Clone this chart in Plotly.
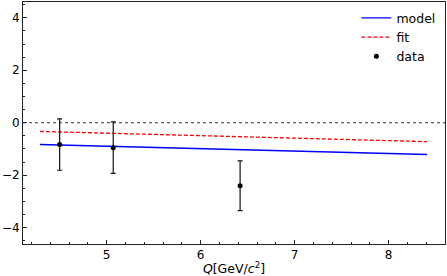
import plotly.graph_objects as go

# Data
data_q = [4.50, 5.07, 6.42]
data_val = [-0.83, -0.95, -2.40]
data_err = [0.98, 0.98, 0.95]

model_q = [4.29, 6.0, 8.41]
model_val = [-0.83, -0.99, -1.21]

fit_q = [4.29, 6.0, 8.41]
fit_val = [-0.33, -0.49, -0.72]

x_ticks = [5, 6, 7, 8]
y_ticks = [-4, -2, 0, 2, 4]

FONT = "DejaVu Sans"

fig = go.Figure()
fig.add_trace(go.Scatter(x=model_q, y=model_val, mode="lines", name="model",
                         line=dict(color="#0000ff", width=1.3)))
fig.add_trace(go.Scatter(x=fit_q, y=fit_val, mode="lines", name="fit",
                         line=dict(color="#ff0000", width=1.3, dash="4px,2px")))
fig.add_trace(go.Scatter(x=data_q, y=data_val, mode="markers", name="data",
                         marker=dict(color="black", size=5),
                         error_y=dict(type="data", array=data_err, color="#111111",
                                      thickness=1.2, width=2.5)))

fig.add_hline(y=0, line=dict(color="black", width=0.8, dash="dot"), layer="below")

axis_common = dict(showline=True, linecolor="#222222", linewidth=1, mirror=True,
                   ticks="inside", ticklen=4, tickcolor="#222222", showgrid=False,
                   zeroline=False, automargin=False,
                   tickfont=dict(family=FONT, size=12, color="black"))

fig.update_xaxes(range=[4.11, 8.60], tickvals=x_ticks,
                 minor=dict(ticks="inside", ticklen=2, dtick=0.2, tick0=5, tickcolor="#222222"),
                 title=dict(text="<i>Q</i>[GeV/<i>c</i><sup>2</sup>]",
                            font=dict(family=FONT, size=12.5, color="black"), standoff=2),
                 **axis_common)
fig.update_yaxes(range=[-4.62, 4.6], tickvals=y_ticks,
                 ticktext=["\u22124", "\u22122", "0", "2", "4"],
                 minor=dict(ticks="inside", ticklen=2, dtick=0.5, tick0=0, tickcolor="#222222"),
                 **axis_common)

fig.update_layout(width=447, height=276,
                  margin=dict(l=23, r=2, t=2, b=32, autoexpand=False),
                  plot_bgcolor="white", paper_bgcolor="white",
                  font=dict(family=FONT, size=12, color="black"),
                  legend=dict(x=0.79, y=0.995, xanchor="left", yanchor="top",
                              bgcolor="rgba(255,255,255,0)",
                              font=dict(family=FONT, size=12.5), tracegroupgap=0,
                              itemwidth=30))

fig.write_html("out.html", config={"displayModeBar": False},
               post_script="document.body.style.margin='0';document.body.style.padding='0';")
